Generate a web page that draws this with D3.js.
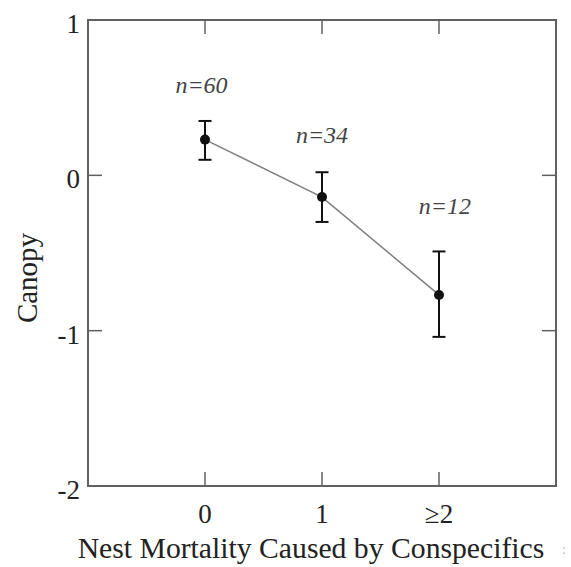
<!DOCTYPE html>
<html>
<head>
<meta charset="utf-8">
<script src="https://cdn.jsdelivr.net/npm/d3@7"></script>
<style>
  body { margin: 0; background: #fff; }
  text { font-family: "Liberation Serif", "Times New Roman", serif; }
</style>
</head>
<body>
<svg class="d3svg" width="571" height="567"></svg>
<script>
// data
var categories = ["0", "1", "\u22652"];
var means = [0.23, -0.14, -0.77];
var upper = [0.35, 0.02, -0.49];
var lower = [0.10, -0.30, -1.04];
var sampleLabels = ["n=60", "n=34", "n=12"];
var labelX = [-0.03, 1.0, 2.05];      // where the n= labels sit (category units)
var labelValues = [0.53, 0.21, -0.25]; // baseline of the n= labels (canopy units)
var yTicks = [-2, -1, 0, 1];

var frame_color = '#606060';
var line_color = '#808080';
var mark_color = '#111';
var text_color = '#222';

var svg = d3.select(".d3svg"),
    width = +svg.attr("width"),
    height = +svg.attr("height");

var margin = {left: 88, right: 15, top: 20, bottom: 81};

var x = d3.scaleLinear().domain([-1, 3]).range([margin.left, width - margin.right]);
var y = d3.scaleLinear().domain([-2, 1]).range([height - margin.bottom, margin.top]);

var pts = categories.map(function(c, i) {
    return {i: i, cat: c, m: means[i], hi: upper[i], lo: lower[i],
            n: sampleLabels[i], nx: labelX[i], ny: labelValues[i]};
});

// frame
svg.append("rect")
    .attr("x", x(-1))
    .attr("y", y(1))
    .attr("width", x(3) - x(-1))
    .attr("height", y(-2) - y(1))
    .attr("fill", "none")
    .attr("stroke", frame_color)
    .attr("stroke-width", 2);

var tickLen = 14;

// x ticks, bottom and top (inward)
var ticks = svg.append("g")
    .attr("stroke", frame_color)
    .attr("stroke-width", 1.5);

[0, 1, 2].forEach(function(v) {
    ticks.append("line")
        .attr("x1", x(v)).attr("x2", x(v))
        .attr("y1", y(-2)).attr("y2", y(-2) - tickLen);
    ticks.append("line")
        .attr("x1", x(v)).attr("x2", x(v))
        .attr("y1", y(1)).attr("y2", y(1) + tickLen);
});

// y ticks, left and right (inward)
yTicks.filter(function(v) { return v > -2 && v < 1; }).forEach(function(v) {
    ticks.append("line")
        .attr("x1", x(-1)).attr("x2", x(-1) + tickLen)
        .attr("y1", y(v)).attr("y2", y(v));
    ticks.append("line")
        .attr("x1", x(3)).attr("x2", x(3) - tickLen)
        .attr("y1", y(v)).attr("y2", y(v));
});

// tick labels
svg.append("g").selectAll("text")
    .data(categories)
    .enter().append("text")
    .attr("x", function(d, i) { return x(i); })
    .attr("y", y(-2) + 37)
    .attr("text-anchor", "middle")
    .attr("font-size", 27)
    .attr("fill", text_color)
    .text(function(d) { return d; });

svg.append("g").selectAll("text")
    .data(yTicks)
    .enter().append("text")
    .attr("x", x(-1) - 8)
    .attr("y", function(d) { return y(d) + 13; })
    .attr("text-anchor", "end")
    .attr("font-size", 27)
    .attr("fill", text_color)
    .text(function(d) { return d; });

// axis titles
svg.append("text")
    .attr("x", (x(-1) + x(3)) / 2 - 11)
    .attr("y", 558)
    .attr("text-anchor", "middle")
    .attr("font-size", 29.7)
    .attr("fill", text_color)
    .text("Nest Mortality Caused by Conspecifics");

svg.append("text")
    .attr("transform", "translate(37,278) rotate(-90)")
    .attr("text-anchor", "middle")
    .attr("font-size", 29)
    .attr("fill", text_color)
    .text("Canopy");

svg.append("text")
    .attr("x", 564)
    .attr("y", 554)
    .attr("text-anchor", "middle")
    .attr("font-size", 14)
    .attr("fill", "#bbb")
    .text(":");

// connecting line
var lineFunction = d3.line()
    .x(function(d) { return x(d.i); })
    .y(function(d) { return y(d.m); });

svg.append("path")
    .attr("d", lineFunction(pts))
    .attr("fill", "none")
    .attr("stroke", line_color)
    .attr("stroke-width", 1.5);

// error bars
var eb = svg.append("g").selectAll("g")
    .data(pts)
    .enter().append("g");

eb.append("line")
    .attr("x1", function(d) { return x(d.i); })
    .attr("x2", function(d) { return x(d.i); })
    .attr("y1", function(d) { return y(d.hi); })
    .attr("y2", function(d) { return y(d.lo); })
    .attr("stroke", mark_color).attr("stroke-width", 2);

["hi", "lo"].forEach(function(k) {
    eb.append("line")
        .attr("x1", function(d) { return x(d.i) - 6.5; })
        .attr("x2", function(d) { return x(d.i) + 6.5; })
        .attr("y1", function(d) { return y(d[k]); })
        .attr("y2", function(d) { return y(d[k]); })
        .attr("stroke", mark_color).attr("stroke-width", 2);
});

eb.append("circle")
    .attr("cx", function(d) { return x(d.i); })
    .attr("cy", function(d) { return y(d.m); })
    .attr("r", 5)
    .attr("fill", mark_color);

// sample size labels
eb.append("text")
    .attr("x", function(d) { return x(d.nx); })
    .attr("y", function(d) { return y(d.ny); })
    .attr("text-anchor", "middle")
    .attr("font-size", 24)
    .attr("font-style", "italic")
    .attr("fill", "#444")
    .text(function(d) { return d.n; });
</script>
</body>
</html>
